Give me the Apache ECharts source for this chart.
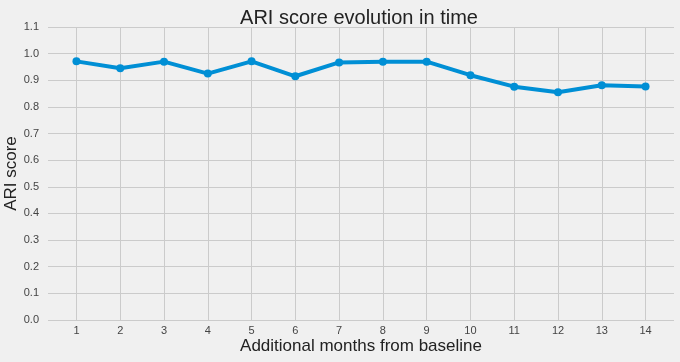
<!DOCTYPE html>
<html>
<head>
<meta charset="utf-8">
<script src="https://cdn.jsdelivr.net/npm/echarts@6/dist/echarts.min.js"></script>
<style>
html,body{margin:0;padding:0;background:#f0f0f0;}
#c{width:680px;height:362px;}
</style>
</head>
<body>
<div id="c"></div>
<script>
var months = [1,2,3,4,5,6,7,8,9,10,11,12,13,14];
var ariScores = [0.971,0.945,0.970,0.925,0.971,0.915,0.967,0.970,0.970,0.919,0.876,0.855,0.881,0.877];
var yTicks = [0,0.1,0.2,0.3,0.4,0.5,0.6,0.7,0.8,0.9,1.0,1.1];

var font = 'Liberation Sans, Arial, sans-serif';
var chart = echarts.init(document.getElementById('c'), null, {renderer:'canvas'});
chart.setOption({
  backgroundColor:'#f0f0f0',
  animation:false,
  title:{
    text:'ARI score evolution in time',
    left:354, top:3, textAlign:'center',
    textStyle:{fontFamily:font,fontSize:20,fontWeight:'normal',color:'#222'}
  },
  grid:{left:48,right:6,top:27,bottom:42,containLabel:false,outerBoundsMode:'none'},
  xAxis:{
    type:'value', min:0.35, max:14.65,
    name:'Additional months from baseline', nameLocation:'middle', nameGap:18,
    nameMoveOverlap:false,
    nameTextStyle:{fontFamily:font,fontSize:17,color:'#222'},
    axisLine:{show:false},
    axisTick:{show:false, customValues:months},
    axisLabel:{customValues:months, fontFamily:font,fontSize:11,color:'#444',margin:5},
    splitLine:{show:true,lineStyle:{color:'#cbcbcb',width:1}}
  },
  yAxis:{
    type:'value', min:0, max:1.1, interval:0.1,
    name:'ARI score', nameLocation:'middle', nameGap:28,
    nameMoveOverlap:false,
    nameTextStyle:{fontFamily:font,fontSize:17,color:'#222'},
    axisLine:{show:false}, axisTick:{show:false},
    axisLabel:{fontFamily:font,fontSize:11,color:'#444',margin:9,
      formatter:function(v){return v.toFixed(1);}},
    splitLine:{show:true,lineStyle:{color:'#cbcbcb',width:1}}
  },
  series:[{
    type:'line',
    data:months.map(function(m,i){return [m, ariScores[i]];}),
    symbol:'circle', symbolSize:8,
    lineStyle:{color:'#008fd5',width:4},
    itemStyle:{color:'#008fd5'}
  }]
});
</script>
</body>
</html>
